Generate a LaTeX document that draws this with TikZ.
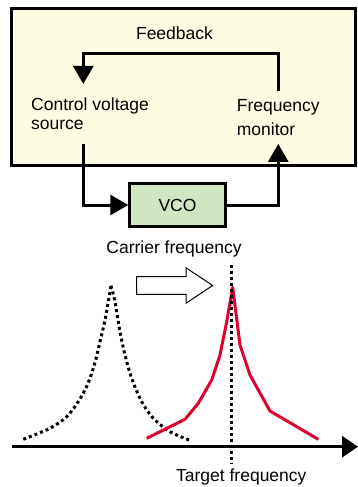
\documentclass[tikz,border=0pt]{standalone}
\usepackage{fontspec}
\setmainfont{Liberation Sans}
\usetikzlibrary{arrows.meta}
\definecolor{panelbg}{RGB}{255,252,228}
\definecolor{vcobg}{RGB}{208,229,194}
\definecolor{peakred}{RGB}{222,0,45}

\begin{document}
\begin{tikzpicture}[x=1pt, y=-1pt,
  txt/.style={font=\fontsize{17.5}{19}\selectfont, inner xsep=0pt, inner ysep=0pt},
  panel/.style={draw, line width=3pt, fill=panelbg,
                minimum width=343.5pt, minimum height=156.7pt},
  vcobox/.style={draw, line width=3pt, fill=vcobg,
                 minimum width=95.4pt, minimum height=43.6pt,
                 font=\fontsize{17.5}{19}\selectfont},
  arrow/.style={-{Triangle[length=18pt,width=20pt]}, line width=3pt},
  dots/.style={line width=3pt, dash pattern=on 3pt off 3pt},
  curve/.style={line width=3pt, peakred, line join=round},
  hollow/.style={draw, line width=1pt, fill=white},
]
\useasboundingbox (0,0) rectangle (358,487);

% ---- Feedback panel ----
\node[panel] (panel) at (183.25,86.65) {};
\node[txt, anchor=base] (fb) at (174.5,39.3) {Feedback};

\node[txt, align=left, anchor=west, inner ysep=14pt] (ctrl) at (31,114.1)
  {Control voltage\\source};
\node[txt, align=left, anchor=west, inner ysep=8pt,
      font=\fontsize{17.5}{24}\selectfont] (fmon) at (236.7,117.6)
  {Frequency\\monitor};

% ---- VCO ----
\node[vcobox] (vco) at (177.5,205) {VCO};
\node[txt, anchor=base] (carrier) at (174,253.3) {Carrier frequency};

% ---- Connections ----
\coordinate (fbL) at (83.3,53.5);
\draw[arrow] (fmon.north) |- (fbL) -- (fbL |- ctrl.north);
\draw[arrow] (fbL |- ctrl.south) |- (vco.west);
\draw[arrow] (vco.east) -| (fmon.south);

% ---- Spectrum ----
\draw[hollow] (136.7,276.7) -- (186,276.7) -- (186,267.8) -- (212.7,285.5)
  -- (186,303.2) -- (186,294.3) -- (136.7,294.3) -- cycle;

% old carrier (dotted)
\draw[dots] plot[smooth] coordinates {(23.3,439.3) (50,428.3) (66.7,416.7)
  (78.3,401.7) (87.3,385) (94.3,365) (100,341.7) (105,320) (108.3,301.7) (111,285.7)};
\draw[dots] plot[smooth] coordinates {(111,285.7) (115,301.7) (120,331.7)
  (125,355) (131.7,378.3) (141.7,401.7) (153.3,418.3) (170,431.7) (190,440.3)};

% tuned carrier
\draw[curve] (146.7,438.3) -- (185,419.3) -- (198.3,403.3) -- (211.7,380)
  -- (220,355) -- (226.7,321.7) -- (232.7,287.3) -- (240,345) -- (250,375)
  -- (270,411) -- (318.3,439.3);

% target line
\coordinate (tgtTop) at (231.7,265);
\coordinate (tgtBot) at (231.7,464);
\draw[dots] (tgtTop) -- (tgtBot);

% frequency axis
\coordinate (ax0) at (12,446.7);
\coordinate (ax1) at (358,446.7);
\draw[-{Triangle[length=16pt,width=21pt]}, line width=3pt] (ax0) -- (ax1);

\node[txt, anchor=base] (target) at (241.3,481) {Target frequency};

\end{tikzpicture}
\end{document}
